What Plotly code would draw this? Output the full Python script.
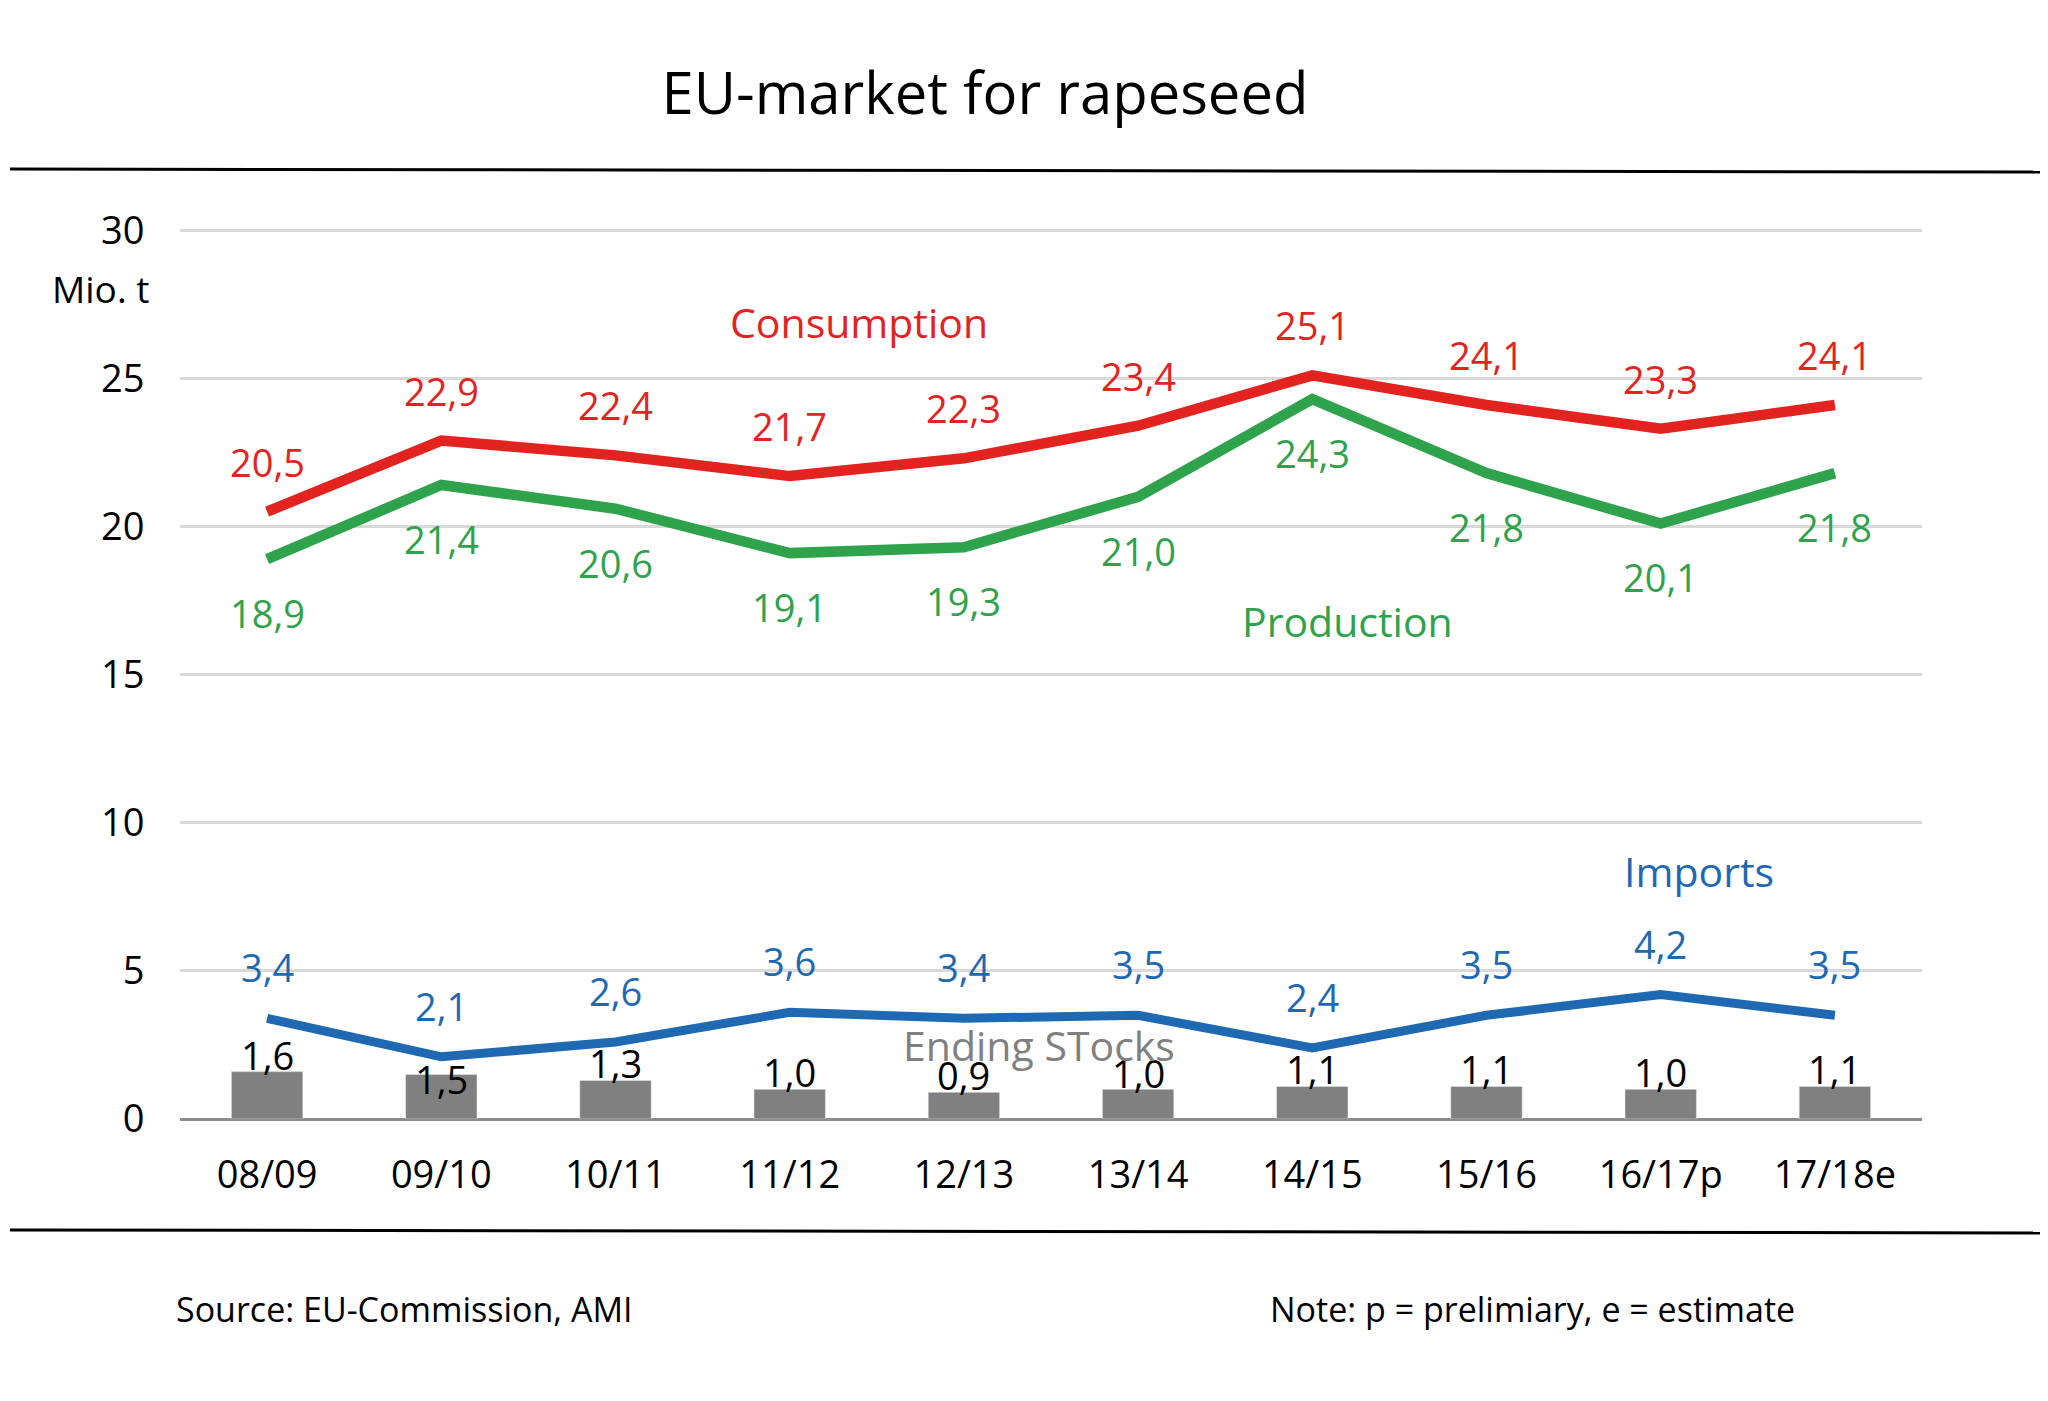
import plotly.graph_objects as go

# seasons and series (Mio. t)
seasons = ["08/09", "09/10", "10/11", "11/12", "12/13", "13/14", "14/15", "15/16", "16/17p", "17/18e"]
consumption = [20.5, 22.9, 22.4, 21.7, 22.3, 23.4, 25.1, 24.1, 23.3, 24.1]
production = [18.9, 21.4, 20.6, 19.1, 19.3, 21.0, 24.3, 21.8, 20.1, 21.8]
imports = [3.4, 2.1, 2.6, 3.6, 3.4, 3.5, 2.4, 3.5, 4.2, 3.5]
ending_stocks = [1.6, 1.5, 1.3, 1.0, 0.9, 1.0, 1.1, 1.1, 1.0, 1.1]

RED = "#e3231f"
GREEN = "#2ea34b"
BLUE = "#1e69b2"
GRAY = "#808080"
FONT = "Open Sans"

# the "1,5" label sits lower in the original so it clears the blue line
stock_label_shift = [17, -4, 17, 17, 17, 16, 17, 17, 17, 17]


def fmt(v):
    return f"{v:.1f}".replace(".", ",")


fig = go.Figure()

fig.add_trace(go.Bar(
    x=seasons, y=ending_stocks, name="Ending STocks",
    marker_color=GRAY, width=0.41,
))
fig.add_trace(go.Scatter(
    x=seasons, y=production, name="Production", mode="lines",
    line=dict(color=GREEN, width=10.5),
))
fig.add_trace(go.Scatter(
    x=seasons, y=consumption, name="Consumption", mode="lines",
    line=dict(color=RED, width=10.5),
))
fig.add_trace(go.Scatter(
    x=seasons, y=imports, name="Imports", mode="lines",
    line=dict(color=BLUE, width=9),
))

annotations = []
label_font = dict(family=FONT, size=38)
for i, s in enumerate(seasons):
    annotations.append(dict(x=s, y=consumption[i], text=fmt(consumption[i]), yshift=50,
                            font=dict(label_font, color=RED)))
    annotations.append(dict(x=s, y=production[i], text=fmt(production[i]), yshift=-54,
                            font=dict(label_font, color=GREEN)))
    annotations.append(dict(x=s, y=imports[i], text=fmt(imports[i]), yshift=51,
                            font=dict(label_font, color=BLUE)))
    annotations.append(dict(x=s, y=ending_stocks[i], text=fmt(ending_stocks[i]), yshift=stock_label_shift[i],
                            font=dict(label_font, color="#000000")))

# series names written into the plot
series_font = dict(family=FONT, size=41)
annotations += [
    dict(x=3.4, y=26.9, text="Consumption", font=dict(series_font, color=RED)),
    dict(x=6.2, y=16.8, text="Production", font=dict(series_font, color=GREEN)),
    dict(x=8.22, y=8.36, text="Imports", font=dict(series_font, color=BLUE)),
    dict(x=4.43, y=2.51, text="Ending STocks", font=dict(series_font, color=GRAY)),
]
for a in annotations:
    a.update(xref="x", yref="y", showarrow=False, xanchor="center", yanchor="middle")

annotations += [
    dict(xref="paper", yref="paper", x=-0.0459, y=0.9326, xanchor="center", yanchor="middle",
         text="Mio. t", showarrow=False, font=dict(family=FONT, size=37, color="#000000")),
    dict(xref="paper", yref="paper", x=-0.0034, y=-0.2135, xanchor="left", yanchor="middle",
         text="Source: EU-Commission, AMI",
         showarrow=False, font=dict(family=FONT, size=34, color="#000000")),
    dict(xref="paper", yref="paper", x=0.6246, y=-0.2135, xanchor="left", yanchor="middle",
         text="Note: p = prelimiary, e = estimate",
         showarrow=False, font=dict(family=FONT, size=34, color="#000000")),
]

fig.update_layout(
    # page body keeps its 8px margin, so the figure is a little smaller than the window
    width=2032, height=1385,
    margin=dict(l=172, r=118, t=221, b=274),
    paper_bgcolor="white", plot_bgcolor="white",
    showlegend=False,
    title=dict(text="EU-market for rapeseed", x=0.4808, y=0.9379, xref="container", yref="container",
               xanchor="center", yanchor="middle", font=dict(family=FONT, size=58, color="#000000")),
    annotations=annotations,
    shapes=[
        dict(type="line", xref="paper", yref="paper", x0=-0.0976, x1=1.07, y0=1.0674, y1=1.064,
             line=dict(color="#000000", width=3)),
        dict(type="line", xref="paper", yref="paper", x0=-0.0976, x1=1.07, y0=-0.1247, y1=-0.1281,
             line=dict(color="#000000", width=3)),
    ],
    xaxis=dict(
        type="category", range=[-0.5, 9.5], showgrid=False, showline=False, zeroline=False,
        ticks="outside", ticklen=22, tickcolor="rgba(0,0,0,0)",
        tickfont=dict(family=FONT, size=38, color="#000000"),
    ),
    yaxis=dict(
        range=[0, 30.04], tickvals=[0, 5, 10, 15, 20, 25, 30], showgrid=True, gridcolor="#d9d9d9", gridwidth=2.5,
        zeroline=True, zerolinecolor="#8c8c8c", zerolinewidth=3, showline=False,
        ticks="outside", ticklen=27, tickcolor="rgba(0,0,0,0)",
        tickfont=dict(family=FONT, size=38, color="#000000"),
    ),
)

fig.write_html("out.html")
